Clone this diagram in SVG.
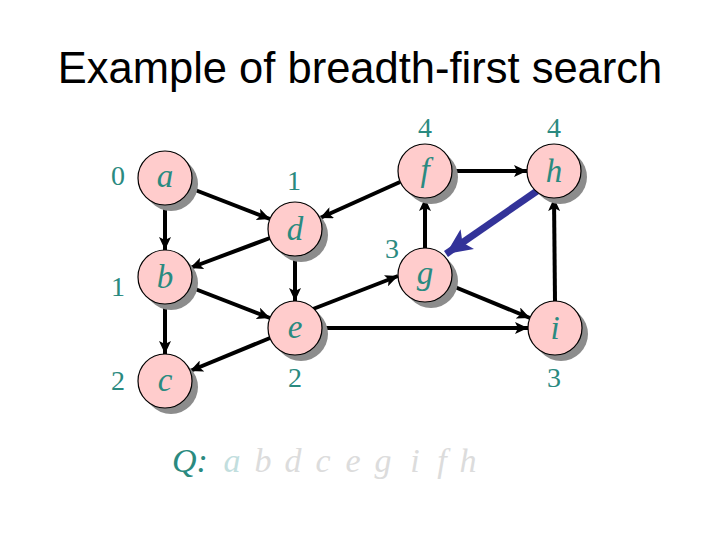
<svg xmlns="http://www.w3.org/2000/svg" width="720" height="540" viewBox="0 0 720 540">
<style>
.title{font-family:"Liberation Sans",Arial,sans-serif;font-size:43.5px;fill:#000}
.lbl{font-family:"Liberation Serif","Times New Roman",serif;font-size:28px;fill:#2a8a80;text-anchor:middle}
.nl{font-family:"Liberation Serif","Times New Roman",serif;font-style:italic;font-size:33px;fill:#2a8a80;text-anchor:middle}
.sh{fill:#8c8c8c}
.nd{fill:#ffcccc;stroke:#000;stroke-width:1.2}
.e{stroke:#000;stroke-width:4;fill:none;marker-end:url(#ah)}
.q{font-family:"Liberation Serif","Times New Roman",serif;font-style:italic;font-size:34px;fill:#dcdcdc;text-anchor:middle}
</style>
<defs>
<marker id="ah" markerUnits="userSpaceOnUse" markerWidth="14" markerHeight="12" refX="13" refY="6" orient="auto">
<path d="M0,0 L13,6 L0,12 L3,6 z" fill="#000"/>
</marker>
<marker id="bh" markerUnits="userSpaceOnUse" markerWidth="28" markerHeight="24" refX="26" refY="12" orient="auto">
<path d="M0,0 L26,12 L0,24 L6,12 z" fill="#333399"/>
</marker>
</defs>
<rect width="720" height="540" fill="#fff"/>
<text class="title" x="360" y="83" text-anchor="middle">Example of breadth-first search</text>
<g id="connectors">
<line class="e" x1="190" y1="188" x2="270" y2="219"/>
<line class="e" x1="165" y1="205" x2="165" y2="250"/>
<line class="e" x1="270" y1="238" x2="190" y2="268"/>
<line class="e" x1="400" y1="182" x2="320" y2="218"/>
<line class="e" x1="165" y1="304" x2="165" y2="354"/>
<line class="e" x1="190" y1="287" x2="270" y2="318"/>
<line class="e" x1="295" y1="256" x2="295" y2="301"/>
<line class="e" x1="270" y1="338" x2="190" y2="371"/>
<line class="e" x1="313" y1="309" x2="398" y2="276"/>
<line class="e" x1="425" y1="248" x2="425" y2="198"/>
<line class="e" x1="452" y1="171" x2="527" y2="171"/>
<line class="e" x1="450" y1="285" x2="530" y2="318"/>
<line class="e" x1="322" y1="328" x2="528" y2="328"/>
<line class="e" x1="555" y1="301" x2="554" y2="198"/>
<line x1="537" y1="191" x2="446" y2="254" stroke="#333399" stroke-width="7" marker-end="url(#bh)"/>
</g>
<g id="node-a"><circle class="sh" cx="171" cy="184" r="27"/><circle class="nd" cx="165" cy="178" r="27"/><text class="nl" x="165" y="187">a</text><text class="lbl" x="118" y="185">0</text></g>
<g id="node-b"><circle class="sh" cx="171" cy="283" r="27"/><circle class="nd" cx="165" cy="277" r="27"/><text class="nl" x="165" y="288">b</text><text class="lbl" x="118" y="296">1</text></g>
<g id="node-c"><circle class="sh" cx="171" cy="387" r="27"/><circle class="nd" cx="165" cy="381" r="27"/><text class="nl" x="165" y="391">c</text><text class="lbl" x="118" y="390">2</text></g>
<g id="node-d"><circle class="sh" cx="301" cy="235" r="27"/><circle class="nd" cx="295" cy="229" r="27"/><text class="nl" x="295" y="240">d</text><text class="lbl" x="294" y="190">1</text></g>
<g id="node-e"><circle class="sh" cx="301" cy="334" r="27"/><circle class="nd" cx="295" cy="328" r="27"/><text class="nl" x="295" y="338">e</text><text class="lbl" x="295" y="387">2</text></g>
<g id="node-f"><circle class="sh" cx="431" cy="177" r="27"/><circle class="nd" cx="425" cy="171" r="27"/><text class="nl" x="425" y="181">f</text><text class="lbl" x="425" y="137">4</text></g>
<g id="node-g"><circle class="sh" cx="431" cy="281" r="27"/><circle class="nd" cx="425" cy="275" r="27"/><text class="nl" x="425" y="284">g</text><text class="lbl" x="392" y="258">3</text></g>
<g id="node-h"><circle class="sh" cx="560" cy="177" r="27"/><circle class="nd" cx="554" cy="171" r="27"/><text class="nl" x="554" y="182">h</text><text class="lbl" x="554" y="137">4</text></g>
<g id="node-i"><circle class="sh" cx="561" cy="334" r="27"/><circle class="nd" cx="555" cy="328" r="27"/><text class="nl" x="555" y="339">i</text><text class="lbl" x="554" y="387">3</text></g>
<g id="queue">
<text class="q" x="190" y="472" style="fill:#2a8a80">Q:</text>
<text class="q" x="232" y="472" style="fill:#c2dede">a</text>
<text class="q" x="263" y="472">b</text>
<text class="q" x="293" y="472">d</text>
<text class="q" x="323" y="472">c</text>
<text class="q" x="353" y="472">e</text>
<text class="q" x="383" y="472">g</text>
<text class="q" x="415" y="472">i</text>
<text class="q" x="442" y="472">f</text>
<text class="q" x="468" y="472">h</text>
</g>
</svg>
